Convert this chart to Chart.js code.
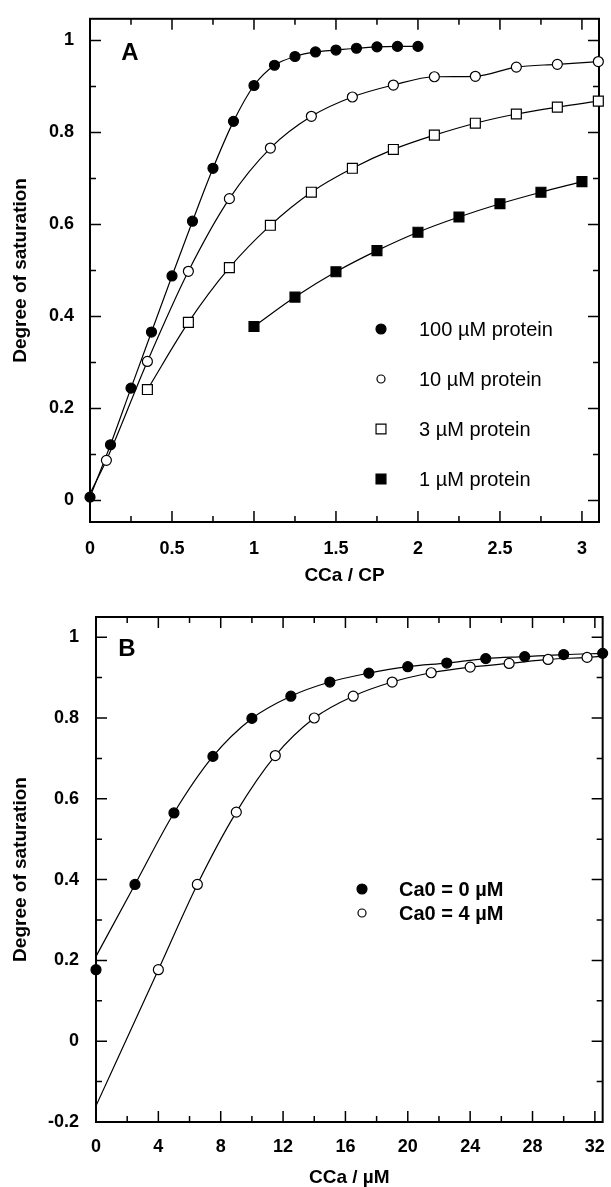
<!DOCTYPE html>
<html>
<head>
<meta charset="utf-8">
<script src="https://cdn.jsdelivr.net/npm/chart.js@4"></script>
<style>
  body { margin: 0; background: #fff; }
  canvas { position: absolute; left: 0; }
  #chartA { top: 0; }
  #chartB { top: 595px; }
</style>
</head>
<body>
<canvas id="chartA" width="611" height="595"></canvas>
<canvas id="chartB" width="611" height="592"></canvas>
<script>
/* Panel A: degree of saturation vs CCa / CP */
const xTicksA = [0, 0.5, 1, 1.5, 2, 2.5, 3];
const yTicksA = [0, 0.2, 0.4, 0.6, 0.8, 1];

const cp100 = [0, 0.125, 0.25, 0.375, 0.5, 0.625, 0.75, 0.875, 1, 1.125, 1.25, 1.375, 1.5, 1.625, 1.75, 1.875, 2];
const sat100 = [0.007, 0.121, 0.244, 0.366, 0.488, 0.607, 0.722, 0.824, 0.902, 0.946, 0.965, 0.975, 0.979, 0.983, 0.986, 0.987, 0.987];

const cp10 = [0.1, 0.35, 0.6, 0.85, 1.1, 1.35, 1.6, 1.85, 2.1, 2.35, 2.6, 2.85, 3.1];
const sat10 = [0.087, 0.302, 0.498, 0.656, 0.766, 0.835, 0.877, 0.903, 0.921, 0.922, 0.942, 0.948, 0.954];

const cp3 = [0.35, 0.6, 0.85, 1.1, 1.35, 1.6, 1.85, 2.1, 2.35, 2.6, 2.85, 3.1];
const sat3 = [0.241, 0.387, 0.506, 0.598, 0.67, 0.722, 0.763, 0.794, 0.82, 0.84, 0.855, 0.868];

const cp1 = [1, 1.25, 1.5, 1.75, 2, 2.25, 2.5, 2.75, 3];
const sat1 = [0.378, 0.442, 0.497, 0.543, 0.583, 0.616, 0.645, 0.67, 0.693];

// fitted curve of the 10 uM series starts at the origin
const fitStart10 = [0, 0.015];

/* Panel B: degree of saturation vs CCa / uM */
const xTicksB = [0, 4, 8, 12, 16, 20, 24, 28, 32];
const yTicksB = [-0.2, 0, 0.2, 0.4, 0.6, 0.8, 1];

const cca0 = [0, 2.5, 5, 7.5, 10, 12.5, 15, 17.5, 20, 22.5, 25, 27.5, 30, 32.5];
const satCa0 = [0.177, 0.388, 0.565, 0.705, 0.799, 0.854, 0.889, 0.911, 0.927, 0.936, 0.947, 0.952, 0.957, 0.96];

const cca4 = [4, 6.5, 9, 11.5, 14, 16.5, 19, 21.5, 24, 26.5, 29, 31.5];
const satCa4 = [0.177, 0.388, 0.567, 0.707, 0.8, 0.854, 0.889, 0.912, 0.926, 0.935, 0.945, 0.95];

// ends of the fitted curves (CCa = 0 and right edge)
const fitStartCa0 = [0, 0.21];
const fitStartCa4 = [0, -0.16];
const fitEndCa4 = [32.5, 0.953];

const FONT = "'Liberation Sans', Arial, sans-serif";

function xy(xs, ys) {
  return xs.map((v, i) => ({ x: v, y: ys[i] }));
}

function pt(p) {
  return { x: p[0], y: p[1] };
}

function points(label, data, style, filled, radius) {
  return {
    label: label,
    data: data,
    showLine: false,
    pointStyle: style,
    pointRadius: radius,
    pointBorderWidth: 1.2,
    pointBorderColor: '#000',
    pointBackgroundColor: filled ? '#000' : '#fff',
    clip: false,
    order: 0
  };
}

function curve(data) {
  return {
    data: data,
    showLine: true,
    pointRadius: 0,
    borderColor: '#000',
    borderWidth: 1.2,
    cubicInterpolationMode: 'monotone',
    order: 1
  };
}

// box round the plot with inward ticks on all four sides
const frame = {
  id: 'frame',
  beforeDatasetsDraw(chart) {
    const { ctx, chartArea: a, scales: { x, y } } = chart;
    const marks = (vals) => {
      const out = [];
      vals.forEach((v, i) => {
        out.push([v, 11]);
        if (i < vals.length - 1) out.push([(v + vals[i + 1]) / 2, 6]);
      });
      return out;
    };
    ctx.save();
    ctx.strokeStyle = '#000';
    ctx.lineWidth = 1.5;
    ctx.beginPath();
    marks(x.ticks.map(t => t.value)).forEach(([v, len]) => {
      const px = x.getPixelForValue(v);
      ctx.moveTo(px, a.bottom); ctx.lineTo(px, a.bottom - len);
      ctx.moveTo(px, a.top); ctx.lineTo(px, a.top + len);
    });
    marks(y.ticks.map(t => t.value)).forEach(([v, len]) => {
      const py = y.getPixelForValue(v);
      ctx.moveTo(a.left, py); ctx.lineTo(a.left + len, py);
      ctx.moveTo(a.right, py); ctx.lineTo(a.right - len, py);
    });
    ctx.stroke();
    ctx.lineWidth = 2;
    ctx.strokeRect(a.left, a.top, a.right - a.left, a.bottom - a.top);
    ctx.restore();
  }
};

// panel letter and the legend inside the plot
const panel = {
  id: 'panel',
  afterDraw(chart, args, opts) {
    const ctx = chart.ctx;
    ctx.save();
    ctx.fillStyle = '#000';
    ctx.textBaseline = 'middle';
    ctx.textAlign = 'center';
    ctx.font = 'bold 24px ' + FONT;
    ctx.fillText(opts.letter, opts.letterX, opts.letterY);
    ctx.textAlign = 'left';
    ctx.font = opts.legendFont;
    opts.rows.forEach((row, i) => {
      const ds = chart.data.datasets[row.dataset];
      const yy = opts.legendY + i * opts.legendGap;
      ctx.fillStyle = ds.pointBackgroundColor;
      ctx.strokeStyle = '#000';
      ctx.lineWidth = 1.2;
      Chart.helpers.drawPoint(ctx, {
        pointStyle: ds.pointStyle,
        radius: row.radius,
        rotation: 0,
        borderWidth: 1.2
      }, opts.markerX, yy);
      ctx.fillStyle = '#000';
      ctx.fillText(ds.label, opts.textX, yy + 1);
    });
    ctx.restore();
  }
};

function makeConfig(datasets, xr, yr, xTicks, yTicks, xTitle, pad, yWidth, xHeight, titleBottom, xPad, yPad, panelOpts) {
  return {
    type: 'scatter',
    data: { datasets: datasets },
    options: {
      responsive: false,
      animation: false,
      devicePixelRatio: 1,
      layout: { padding: pad },
      plugins: {
        legend: { display: false },
        tooltip: { enabled: false },
        panel: panelOpts
      },
      scales: {
        x: {
          type: 'linear',
          min: xr[0],
          max: xr[1],
          grid: { display: false },
          border: { display: false },
          afterBuildTicks: s => { s.ticks = xTicks.map(v => ({ value: v })); },
          afterFit: s => { s.height = xHeight; },
          ticks: {
            color: '#000',
            padding: xPad,
            maxRotation: 0,
            font: { family: FONT, size: 18, weight: 'bold' },
            callback: v => String(v)
          },
          title: {
            display: true,
            text: xTitle,
            color: '#000',
            padding: { top: 0, bottom: titleBottom },
            font: { family: FONT, size: 19, weight: 'bold', lineHeight: 1 }
          }
        },
        y: {
          type: 'linear',
          min: yr[0],
          max: yr[1],
          grid: { display: false },
          border: { display: false },
          afterBuildTicks: s => { s.ticks = yTicks.map(v => ({ value: v })); },
          afterFit: s => { s.width = yWidth; },
          ticks: {
            color: '#000',
            padding: yPad,
            font: { family: FONT, size: 18, weight: 'bold' },
            callback: v => String(v)
          },
          title: {
            display: true,
            text: 'Degree of saturation',
            color: '#000',
            padding: { top: 11, bottom: 0 },
            font: { family: FONT, size: 19, weight: 'bold', lineHeight: 1 }
          }
        }
      }
    },
    plugins: [frame, panel]
  };
}

const datasetsA = [
  points('100 µM protein', xy(cp100, sat100), 'circle', true, 5),
  points('10 µM protein', xy(cp10, sat10), 'circle', false, 5),
  points('3 µM protein', xy(cp3, sat3), 'rect', false, 7),
  points('1 µM protein', xy(cp1, sat1), 'rect', true, 7),
  curve(xy(cp100, sat100)),
  curve([pt(fitStart10)].concat(xy(cp10, sat10))),
  curve(xy(cp3, sat3)),
  curve(xy(cp1, sat1))
];

new Chart(document.getElementById('chartA'), makeConfig(
  datasetsA, [0, 3.104], [-0.047, 1.047], xTicksA, yTicksA, 'CCa / CP',
  { top: 13, right: 12, left: 0, bottom: 0 }, 90, 73, 10, 8, 8,
  {
    letter: 'A', letterX: 130, letterY: 53,
    legendFont: '20px ' + FONT,
    markerX: 381, textX: 419, legendY: 329, legendGap: 50,
    rows: [
      { dataset: 0, radius: 5 },
      { dataset: 1, radius: 4 },
      { dataset: 2, radius: 7 },
      { dataset: 3, radius: 7 }
    ]
  }
));

const datasetsB = [
  points('Ca0 = 0 µM', xy(cca0, satCa0), 'circle', true, 5),
  points('Ca0 = 4 µM', xy(cca4, satCa4), 'circle', false, 5),
  curve([pt(fitStartCa0)].concat(xy(cca0.slice(1), satCa0.slice(1)))),
  curve([pt(fitStartCa4)].concat(xy(cca4, satCa4), [pt(fitEndCa4)]))
];

new Chart(document.getElementById('chartB'), makeConfig(
  datasetsB, [0, 32.5], [-0.2, 1.05], xTicksB, yTicksB, 'CCa / µM',
  { top: 22, right: 8, left: 0, bottom: 0 }, 96, 65, 0, 6, 9,
  {
    letter: 'B', letterX: 127, letterY: 54,
    legendFont: 'bold 20px ' + FONT,
    markerX: 362, textX: 399, legendY: 294, legendGap: 24,
    rows: [
      { dataset: 0, radius: 5 },
      { dataset: 1, radius: 4 }
    ]
  }
));
</script>
</body>
</html>
